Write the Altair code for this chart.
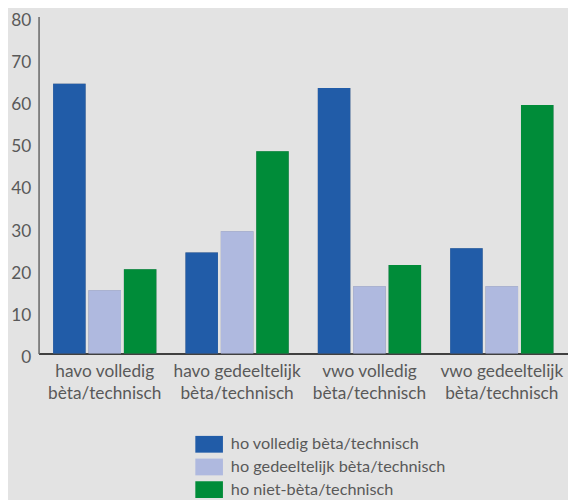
import altair as alt
import pandas as pd

categories = ["havo volledig|bèta/technisch", "havo gedeeltelijk|bèta/technisch",
              "vwo volledig|bèta/technisch", "vwo gedeeltelijk|bèta/technisch"]
series = ["ho volledig bèta/technisch", "ho gedeeltelijk bèta/technisch", "ho niet-bèta/technisch"]
volledig = [64, 24, 63, 25]
gedeeltelijk = [15, 29, 16, 16]
niet = [20, 48, 21, 59]
colors = ["#215CA8", "#AFB9DF", "#008C39"]

rows = []
for vals, s in zip([volledig, gedeeltelijk, niet], series):
    for c, v in zip(categories, vals):
        rows.append({"cat": c, "series": s, "value": v})
df = pd.DataFrame(rows)

FONT = "Lato"
TXT = "#595959"

x_enc = alt.X("cat:N", sort=categories, title=None,
              scale=alt.Scale(paddingInner=0.22, paddingOuter=0.11),
              axis=alt.Axis(labelExpr="split(datum.label, '|')", labelAngle=0,
                            labelFontSize=17.5, labelColor=TXT, labelFont=FONT,
                            labelLineHeight=23, labelPadding=9, ticks=False,
                            domainColor="#404040", domainWidth=2, labelLimit=300))
xo_enc = alt.XOffset("series:N", sort=series,
                     scale=alt.Scale(paddingInner=0.083, paddingOuter=0))
y_enc = alt.Y("value:Q", title=None,
              scale=alt.Scale(domain=[0, 80], nice=False),
              axis=alt.Axis(values=[0, 10, 20, 30, 40, 50, 60, 70, 80], grid=False, ticks=False,
                            labelFontSize=17.5, labelColor=TXT, labelFont=FONT, labelPadding=8,
                            labelOffset=4, domainColor="#666666", domainWidth=1.5))

base = alt.Chart(df)

shadow1 = base.mark_bar(xOffset=7, color="#70757f", opacity=0.2).encode(
    x=x_enc, xOffset=xo_enc, y=y_enc)
shadow2 = base.mark_bar(xOffset=4, color="#5f6470", opacity=0.3).encode(
    x=x_enc, xOffset=xo_enc, y=y_enc)
shadow3 = base.mark_bar(xOffset=2, color="#50545e", opacity=0.35).encode(
    x=x_enc, xOffset=xo_enc, y=y_enc)

bars = base.mark_bar().encode(
    x=x_enc, xOffset=xo_enc, y=y_enc,
    color=alt.Color("series:N", sort=series,
                    scale=alt.Scale(domain=series, range=colors),
                    legend=alt.Legend(title=None, orient="none", legendX=163, legendY=424,
                                      padding=0, symbolType="M-1.4,-0.85H1.4V0.85H-1.4Z",
                                      symbolSize=400, symbolStrokeWidth=0, symbolOpacity=1,
                                      rowPadding=4, labelOffset=12, labelFontSize=16.5,
                                      labelColor=TXT, labelFont=FONT, labelLimit=400)),
)

chart = alt.layer(shadow1, shadow2, shadow3, bars).properties(
    width=537, height=342,
    padding={"left": 31, "top": 5, "right": 0, "bottom": 145},
    autosize=alt.AutoSizeParams(type="none"),
    background="#E3E3E3",
).configure_view(stroke=None)

chart.save("out.html", embed_options={"renderer": "svg", "actions": False})
